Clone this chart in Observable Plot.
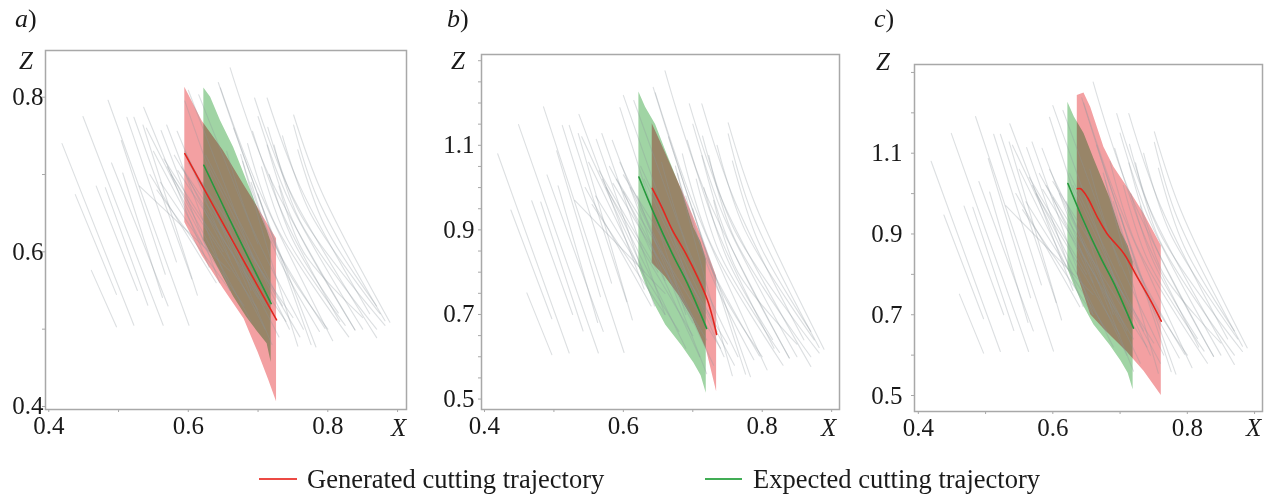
<!DOCTYPE html>
<html><head><meta charset="utf-8">
<script src="https://cdn.jsdelivr.net/npm/d3@7"></script>
<script src="https://cdn.jsdelivr.net/npm/@observablehq/plot@0.6"></script>
<style>
body{margin:0;background:#fff;}
#wrap{position:relative;width:1280px;height:497px;overflow:hidden;font-family:'Liberation Serif','Times New Roman',serif;color:#1a1a1a;}
.pl{position:absolute;top:0;}
.lab{position:absolute;line-height:1;white-space:nowrap;}
.it{font-style:italic;}
.sw{position:absolute;height:2px;}
</style></head><body><div id="wrap"></div><script>
// ---------- tick values ----------
const xTicks = [0.4, 0.5, 0.6, 0.7, 0.8, 0.9];
const xLabels = [0.4, 0.6, 0.8];
const yTicksA = [0.4, 0.5, 0.6, 0.7, 0.8];
const yLabelsA = [0.4, 0.6, 0.8];
const yTicksB = [0.5, 0.55, 0.6, 0.65, 0.7, 0.75, 0.8, 0.85, 0.9, 0.95, 1.0, 1.05, 1.1, 1.15, 1.2, 1.25, 1.3];
const yTicksC = [0.5, 0.6, 0.7, 0.8, 0.9, 1.0, 1.1, 1.2, 1.3];
const yLabelsBC = [0.5, 0.7, 0.9, 1.1];

// ---------- grey trajectories (x, z pairs), panel a units ----------
const greyA = [
 [0.419,0.740, 0.522,0.505],[0.461,0.576, 0.497,0.503],[0.449,0.775, 0.564,0.505],[0.485,0.796, 0.601,0.505],
 [0.438,0.674, 0.497,0.545],[0.468,0.685, 0.527,0.550],[0.504,0.744, 0.567,0.571],[0.512,0.774, 0.583,0.587],
 [0.522,0.774, 0.605,0.565],[0.506,0.702, 0.563,0.541],[0.535,0.764, 0.613,0.544],[0.490,0.715, 0.571,0.530],
 [0.536,0.787, 0.630,0.580],[0.561,0.757, 0.645,0.560],[0.569,0.764, 0.660,0.550],[0.595,0.795, 0.690,0.550],
 [0.600,0.809, 0.700,0.575],[0.584,0.756, 0.660,0.590],[0.615,0.803, 0.700,0.610],[0.575,0.700, 0.700,0.525],
 [0.560,0.690, 0.680,0.530],[0.555,0.680, 0.660,0.550],[0.530,0.685, 0.660,0.575],[0.585,0.705, 0.720,0.520],
 [0.590,0.710, 0.740,0.510],[0.600,0.715, 0.750,0.515],[0.580,0.725, 0.700,0.540],[0.610,0.700, 0.730,0.490],
 [0.620,0.690, 0.720,0.480],[0.565,0.720, 0.650,0.600],[0.550,0.730, 0.620,0.610],[0.630,0.710, 0.745,0.500],
 [0.643,0.819, 0.685,0.710, 0.783,0.477],[0.660,0.838, 0.715,0.700, 0.839,0.499],[0.646,0.812, 0.700,0.683, 0.807,0.485],
 [0.695,0.799, 0.745,0.680, 0.870,0.489],[0.713,0.799, 0.760,0.685, 0.860,0.520],[0.692,0.756, 0.735,0.650, 0.817,0.510],
 [0.714,0.761, 0.760,0.650, 0.882,0.505],[0.751,0.777, 0.790,0.680, 0.889,0.509],[0.751,0.764, 0.785,0.670, 0.882,0.511],
 [0.757,0.732, 0.795,0.635, 0.870,0.530],[0.675,0.726, 0.710,0.615, 0.757,0.478],[0.713,0.738, 0.750,0.640, 0.839,0.499],
 [0.723,0.738, 0.760,0.640, 0.870,0.500],[0.716,0.700, 0.750,0.615, 0.815,0.521],[0.730,0.685, 0.765,0.600, 0.850,0.515],
 [0.678,0.717, 0.715,0.625, 0.796,0.501],[0.665,0.760, 0.705,0.660, 0.776,0.480],[0.690,0.690, 0.725,0.600, 0.788,0.497],
 [0.700,0.675, 0.740,0.580, 0.800,0.500],[0.481,0.683, 0.542,0.531],
 [0.700,0.775, 0.745,0.665, 0.850,0.500],[0.735,0.750, 0.775,0.650, 0.875,0.520],[0.685,0.740, 0.725,0.635, 0.830,0.490],
 [0.655,0.730, 0.690,0.635, 0.765,0.500],[0.705,0.710, 0.740,0.620, 0.825,0.505],[0.570,0.710, 0.690,0.510],
 [0.600,0.695, 0.710,0.500],[0.595,0.730, 0.710,0.530],[0.545,0.700, 0.640,0.560],[0.625,0.725, 0.735,0.530],
 [0.540,0.760, 0.630,0.600],[0.640,0.675, 0.760,0.490]
];
// ---------- grey trajectories, panels b and c units ----------
const greyBC = [
 [0.419,1.080, 0.522,0.609],[0.461,0.751, 0.497,0.605],[0.449,1.149, 0.564,0.609],[0.485,1.191, 0.601,0.610],
 [0.438,0.947, 0.497,0.690],[0.468,0.969, 0.527,0.700],[0.504,1.087, 0.567,0.742],[0.512,1.147, 0.583,0.774],
 [0.522,1.147, 0.605,0.730],[0.506,1.004, 0.563,0.681],[0.535,1.128, 0.613,0.687],[0.490,1.030, 0.571,0.660],
 [0.536,1.173, 0.630,0.760],[0.561,1.114, 0.645,0.720],[0.569,1.128, 0.660,0.700],[0.595,1.189, 0.690,0.700],
 [0.600,1.218, 0.700,0.750],[0.584,1.112, 0.660,0.780],[0.615,1.206, 0.700,0.820],[0.575,1.000, 0.700,0.650],
 [0.560,0.980, 0.680,0.660],[0.555,0.960, 0.660,0.700],[0.530,0.970, 0.660,0.750],[0.585,1.010, 0.720,0.640],
 [0.590,1.020, 0.740,0.620],[0.600,1.030, 0.750,0.630],[0.580,1.050, 0.700,0.680],[0.610,1.000, 0.730,0.580],
 [0.620,0.980, 0.720,0.560],[0.565,1.040, 0.650,0.800],[0.550,1.060, 0.620,0.820],[0.630,1.020, 0.745,0.600],
 [0.643,1.237, 0.685,1.020, 0.783,0.553],[0.660,1.276, 0.715,1.000, 0.839,0.597],[0.646,1.224, 0.700,0.965, 0.807,0.569],
 [0.695,1.198, 0.745,0.960, 0.870,0.577],[0.713,1.198, 0.760,0.970, 0.860,0.640],[0.692,1.112, 0.735,0.900, 0.817,0.620],
 [0.714,1.122, 0.760,0.900, 0.882,0.609],[0.751,1.153, 0.790,0.960, 0.889,0.618],[0.751,1.127, 0.785,0.940, 0.882,0.622],
 [0.757,1.063, 0.795,0.870, 0.870,0.660],[0.675,1.051, 0.710,0.830, 0.757,0.555],[0.713,1.076, 0.750,0.880, 0.839,0.597],
 [0.723,1.076, 0.760,0.880, 0.870,0.600],[0.716,1.000, 0.750,0.830, 0.815,0.641],[0.730,0.970, 0.765,0.800, 0.850,0.630],
 [0.678,1.033, 0.715,0.850, 0.796,0.602],[0.665,1.120, 0.705,0.920, 0.776,0.559],[0.690,0.980, 0.725,0.800, 0.788,0.593],
 [0.700,0.950, 0.740,0.760, 0.800,0.600],[0.481,0.966, 0.542,0.661],
 [0.700,1.150, 0.745,0.930, 0.850,0.600],[0.735,1.100, 0.775,0.900, 0.875,0.640],[0.685,1.080, 0.725,0.870, 0.830,0.580],
 [0.655,1.060, 0.690,0.870, 0.765,0.600],[0.705,1.020, 0.740,0.840, 0.825,0.610],[0.570,1.020, 0.690,0.620],
 [0.600,0.990, 0.710,0.600],[0.595,1.060, 0.710,0.660],[0.545,1.000, 0.640,0.720],[0.625,1.050, 0.735,0.660],
 [0.540,1.120, 0.630,0.800],[0.640,0.950, 0.760,0.580]
];

// ---------- panel a: bands and mean trajectories ----------
const redXA = [0.595, 0.62, 0.65, 0.68, 0.70, 0.715, 0.7265];
const redLoA = [0.638, 0.595, 0.553, 0.513, 0.470, 0.435, 0.406];
const redHiA = [0.813, 0.769, 0.731, 0.686, 0.657, 0.634, 0.617];
const greenXA = [0.6223, 0.632, 0.646, 0.665, 0.684, 0.699, 0.713, 0.7188];
const greenLoA = [0.615, 0.598, 0.574, 0.542, 0.515, 0.497, 0.481, 0.457];
const greenHiA = [0.812, 0.800, 0.770, 0.735, 0.692, 0.658, 0.628, 0.6125];
const redLineA = [0.595,0.727, 0.66,0.620, 0.7265,0.512];
const greenLineA = [0.6223,0.712, 0.67,0.622, 0.7188,0.533];

// ---------- panel b ----------
const redXB = [0.6416, 0.66, 0.68, 0.70, 0.7195, 0.7343];
const redLoB = [0.821, 0.790, 0.745, 0.690, 0.618, 0.517];
const redHiB = [1.151, 1.085, 1.010, 0.935, 0.855, 0.790];
const redLineB = [0.6416,0.998, 0.655,0.955, 0.6704,0.900, 0.6896,0.845, 0.7064,0.790, 0.7209,0.735, 0.728,0.696, 0.7343,0.653];

// ---------- expected trajectory (same in b and c) ----------
const greenXBC = [0.6224, 0.632, 0.6464, 0.661, 0.6848, 0.7016, 0.712, 0.7194];
const greenLoBC = [0.813, 0.772, 0.720, 0.675, 0.625, 0.585, 0.555, 0.514];
const greenHiBC = [1.226, 1.190, 1.149, 1.087, 0.990, 0.905, 0.870, 0.830];
const greenLineBC = [0.6224,1.025, 0.644,0.939, 0.6704,0.844, 0.692,0.774, 0.7199,0.667];

// ---------- panel c ----------
const redXC = [0.6364, 0.6463, 0.6563, 0.676, 0.691, 0.7108, 0.7356, 0.7613];
const redLoC = [0.800, 0.750, 0.700, 0.665, 0.640, 0.607, 0.560, 0.500];
const redHiC = [1.243, 1.249, 1.214, 1.115, 1.065, 1.016, 0.950, 0.871];
const redLineC = [0.6364,1.012, 0.6414,1.012, 0.6513,0.991, 0.6662,0.942, 0.681,0.900, 0.7058,0.851, 0.7256,0.793, 0.7455,0.735, 0.7613,0.684];

const panelLabels = ["a", "b", "c"];
const legendItems = ["Generated cutting trajectory", "Expected cutting trajectory"];

const RED_FILL = "#f3a0a2", GREEN_FILL = "#a0d4a4";
const RED = "#e3261f", GREEN = "#25983c", GRID = "#a8a8a8";

const panels = [
  {left:0, width:420, mL:45, mR:14, mT:50, mB:31, xDom:[0.3953,0.9128], yDom:[0.3961,0.8604],
   yTicks:yTicksA, yLabels:yLabelsA, padY:2, grey:greyA,
   red:[redXA,redLoA,redHiA], green:[greenXA,greenLoA,greenHiA], redLine:redLineA, greenLine:greenLineA},
  {left:420, width:430, mL:61, mR:11, mT:54, mB:31, xDom:[0.3957,0.9113], yDom:[0.4753,1.3147],
   yTicks:yTicksB, yLabels:yLabelsBC, padY:7, grey:greyBC,
   red:[redXB,redLoB,redHiB], green:[greenXBC,greenLoBC,greenHiBC], redLine:redLineB, greenLine:greenLineBC},
  {left:850, width:430, mL:64, mR:18, mT:64, mB:29, xDom:[0.3943,0.9118], yDom:[0.4604,1.3197],
   yTicks:yTicksC, yLabels:yLabelsBC, padY:12, grey:greyBC,
   red:[redXC,redLoC,redHiC], green:[greenXBC,greenLoBC,greenHiBC], redLine:redLineC, greenLine:greenLineBC}
];

const wrap = document.getElementById("wrap");
const pts = arr => { const r = []; for (let j = 0; j < arr.length; j += 2) r.push({x:arr[j], z:arr[j+1]}); return r; };
const band = ([xs, lo, hi]) => xs.map((x, i) => ({x, lo:lo[i], hi:hi[i]}));

panels.forEach(p => {
  const grey = [];
  p.grey.forEach((ln, i) => { for (let j = 0; j < ln.length; j += 2) grey.push({id:i, x:ln[j], z:ln[j+1]}); });
  const svg = Plot.plot({
    width:p.width, height:440,
    marginLeft:p.mL, marginRight:p.mR, marginTop:p.mT, marginBottom:p.mB,
    x:{domain:p.xDom, label:null}, y:{domain:p.yDom, label:null},
    style:{fontFamily:"'Liberation Serif', serif", fontSize:"25px", background:"transparent", color:"#1a1a1a", overflow:"visible"},
    marks:[
      Plot.areaY(band(p.green), {x:"x", y1:"lo", y2:"hi", fill:GREEN_FILL, mixBlendMode:"multiply"}),
      Plot.areaY(band(p.red), {x:"x", y1:"lo", y2:"hi", fill:RED_FILL, mixBlendMode:"multiply"}),
      Plot.line(grey, {x:"x", y:"z", z:"id", stroke:"#8c959d", strokeOpacity:0.3, strokeWidth:1.1, curve:"catmull-rom"}),
      Plot.line(pts(p.greenLine), {x:"x", y:"z", stroke:GREEN, strokeWidth:1.6, curve:"catmull-rom"}),
      Plot.line(pts(p.redLine), {x:"x", y:"z", stroke:RED, strokeWidth:1.6, curve:"catmull-rom"}),
      Plot.frame({stroke:GRID, strokeWidth:1.5}),
      Plot.axisX({ticks:xTicks, tickFormat:() => "", tickSize:3, color:GRID, label:null}),
      Plot.axisX({ticks:xLabels, tickFormat:d => d.toFixed(1), tickSize:0, tickPadding:7, fontSize:25, label:null}),
      Plot.axisY({ticks:p.yTicks, tickFormat:() => "", tickSize:3, color:GRID, label:null}),
      Plot.axisY({ticks:p.yLabels, tickFormat:d => d.toFixed(1), tickSize:0, tickPadding:p.padY, fontSize:25, label:null})
    ]
  });
  svg.classList.add("pl");
  svg.style.left = p.left + "px";
  wrap.appendChild(svg);
});

function addText(html, left, top, size, cls) {
  const d = document.createElement("div");
  d.className = "lab" + (cls ? " " + cls : "");
  d.style.left = left + "px"; d.style.top = top + "px"; d.style.fontSize = size + "px";
  d.innerHTML = html;
  wrap.appendChild(d);
}
// panel letters
const letterPos = [[15, 6], [447, 6], [874, 6]];
panelLabels.forEach((t, i) => addText('<span class="it">' + t + '</span>)', letterPos[i][0], letterPos[i][1], 26));
// axis names
[[19, 48], [451, 48], [876, 49]].forEach(([l, t]) => addText("Z", l, t, 25, "it"));
[[391, 415], [821, 415], [1246, 415]].forEach(([l, t]) => addText("X", l, t, 25, "it"));

// legend
const sw1 = document.createElement("div"); sw1.className = "sw";
sw1.style.cssText += "left:259px;top:478px;width:38px;background:#ec4a44;";
wrap.appendChild(sw1);
addText(legendItems[0], 307, 466, 26.5);
const sw2 = document.createElement("div"); sw2.className = "sw";
sw2.style.cssText += "left:705px;top:478px;width:37px;background:#41ad55;";
wrap.appendChild(sw2);
addText(legendItems[1], 753, 466, 26.5);
</script></body></html>
